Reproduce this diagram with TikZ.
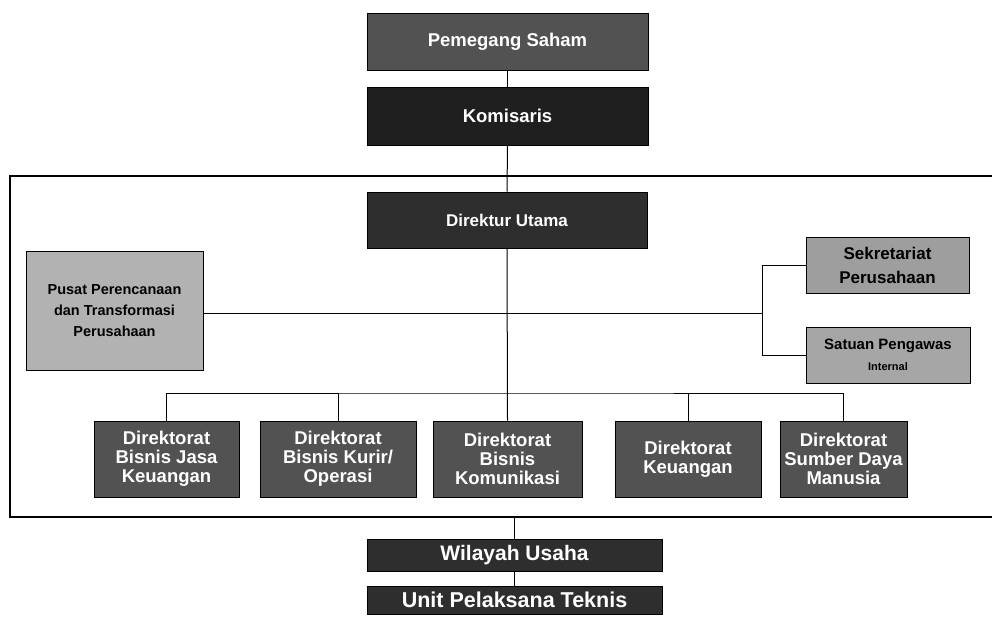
\documentclass[tikz,border=0pt]{standalone}
\usepackage{fontspec}
\setmainfont{Liberation Sans}
\begin{document}
\begin{tikzpicture}[x=1pt,y=-1pt,
  box/.style={draw=black,line width=1pt,inner sep=1pt,align=center,font=\bfseries},
  darkbox/.style={box,fill=black!82,text=white},
  midbox/.style={box,fill=black!68,text=white},
  lightbox/.style={box,fill=black!30,text=black},
  conn/.style={draw=black,line width=1pt},
  frame/.style={draw=black,line width=1.6pt}]
\useasboundingbox (0,0) rectangle (992,616);
% frame
\coordinate (ftl) at (10,176);
\coordinate (fbl) at (10,517);
\coordinate (ftr) at (992,176);
\coordinate (fbr) at (992,517);
\draw[frame] (ftr) -- (ftl) -- (fbl) -- (fbr);
% top nodes
\node[midbox,minimum width=281pt,minimum height=57pt,font=\bfseries\fontsize{18.5}{20}\selectfont] (ps) at (507.5,41.5) {Pemegang Saham};
\node[darkbox,fill=black!88,minimum width=281pt,minimum height=58pt,font=\bfseries\fontsize{18.5}{20}\selectfont] (kom) at (507.5,116) {Komisaris};
\node[darkbox,minimum width=280pt,minimum height=56pt,font=\bfseries\fontsize{17}{19}\selectfont] (du) at (507,220) {Direktur Utama};
% side nodes
\node[lightbox,minimum width=177pt,minimum height=119pt,font=\bfseries\fontsize{14.5}{21}\selectfont] (pusat) at (114.5,310.5) {Pusat Perencanaan\\dan Transformasi\\Perusahaan};
\node[lightbox,fill=black!38,minimum width=163pt,minimum height=56pt,font=\bfseries\fontsize{17}{24}\selectfont] (sek) at (887.5,265) {Sekretariat\\Perusahaan};
\node[lightbox,fill=black!35,minimum width=164pt,minimum height=56pt,font=\bfseries\fontsize{15}{21}\selectfont] (sat) at (888,355) {Satuan Pengawas\\{\fontsize{11}{12}\selectfont Internal}};
% directorates
\tikzset{dir/.style={midbox,minimum height=76pt,font=\bfseries\fontsize{18.5}{19}\selectfont}}
\node[dir,minimum width=145pt] (d1) at (166.5,459) {Direktorat\\Bisnis Jasa\\Keuangan};
\node[dir,minimum width=156pt] (d2) at (338,459) {Direktorat\\Bisnis Kurir/\\Operasi};
\node[dir,minimum width=149pt] (d3) at (507.5,459) {Direktorat\\Bisnis\\Komunikasi};
\node[dir,minimum width=146pt] (d4) at (688,459) {Direktorat\\Keuangan};
\node[dir,minimum width=127pt] (d5) at (843.5,459) {Direktorat\\Sumber Daya\\Manusia};
% bottom nodes
\node[darkbox,minimum width=295pt,minimum height=32pt,font=\bfseries\fontsize{21}{22}\selectfont] (wil) at (514.5,555) {Wilayah Usaha};
\node[darkbox,minimum width=295pt,minimum height=28pt,font=\bfseries\fontsize{21.5}{22}\selectfont] (unit) at (514.5,600) {Unit Pelaksana Teknis};
% connectors
\draw[conn] (ps.south) -- (kom.north);
\draw[conn] (kom.south) -- (du.north);
\coordinate (bus) at (507.5,393);
\coordinate (hj) at (762,313);
\draw[conn] (du.south) -- (d3.north);
\draw[conn] (d1.north) |- (bus) -| (d5.north);
\draw[conn] (d2.north) -- (d2.north |- bus);
\draw[conn] (d4.north) -- (d4.north |- bus);
\draw[conn] (pusat.east |- hj) -- (hj);
\draw[conn] (sek.west) -| (hj) |- (sat.west);
\coordinate (fb) at (wil.north |- fbl);
\draw[conn] (fb) -- (wil.north);
\draw[conn] (wil.south) -- (unit.north);
\end{tikzpicture}
\end{document}
